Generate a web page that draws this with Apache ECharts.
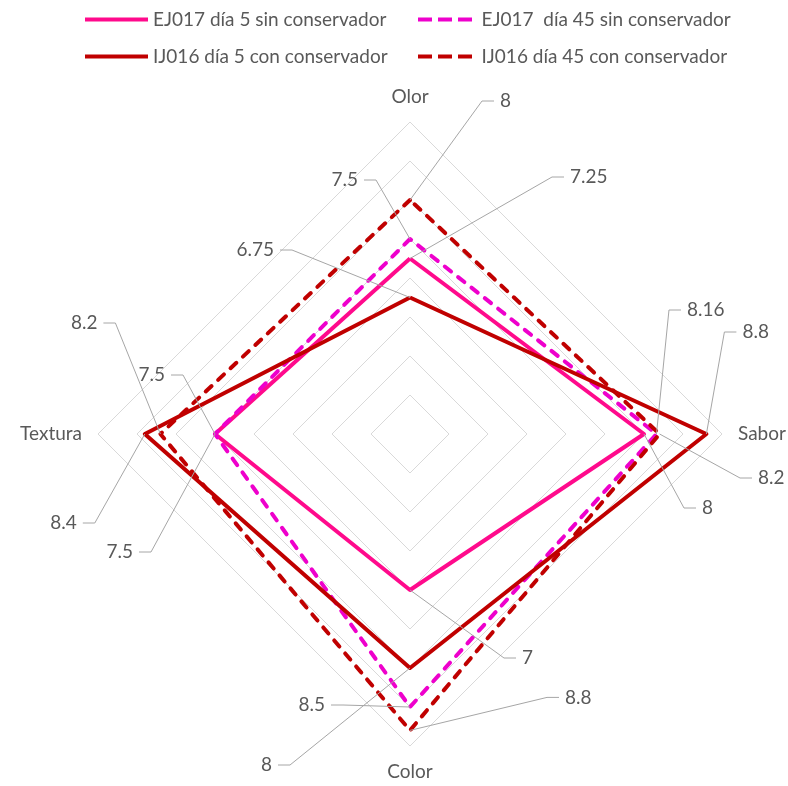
<!DOCTYPE html>
<html>
<head>
<meta charset="utf-8">
<script src="https://cdn.jsdelivr.net/npm/echarts@6/dist/echarts.min.js"></script>
<style>
  html, body { margin: 0; padding: 0; background: #ffffff; }
  #chart { width: 788px; height: 786px; }
</style>
</head>
<body>
<div id="chart"></div>
<script>
// ---------- DATA ----------
var categories = ['Olor', 'Sabor', 'Color', 'Textura'];   // clockwise from top
var seriesNames = [
  'EJ017 día 5 sin conservador',
  'EJ017  día 45 sin conservador',
  'IJ016 día 5 con conservador',
  'IJ016 día 45 con conservador'
];
var ej017Dia5 = [7.25, 8, 7, 7.5];
var ej017Dia45 = [7.5, 8.16, 8.5, 7.5];
var ij016Dia5 = [6.75, 8.8, 8, 8.4];
var ij016Dia45 = [8, 8.2, 8.8, 8.2];
var scaleMin = 5;
var scaleMax = 9;
var scaleSteps = 8;

// ---------- STYLE ----------
var FONT = 'Lato';
var TEXT_COLOR = '#595959';
var colors = ['#FF0A8C', '#EE00CC', '#C00000', '#C00000'];
var dashed = [false, true, false, true];
var CENTER = [410, 434];
var RADIUS = 312;
// label offsets (from data point to the near edge of the label text), per series, per category
var labelOffsets = [
  [[160, -81.5], [58, 74], [112, 68], [-82, 118]],
  [[-52, -59], [30.5, -124], [-85, -2], [-50, -59]],
  [[-136, -47.5], [36, -102], [-138, 97], [-68, 89]],
  [[90, -99], [98.4, 44], [155, -33], [-63, -111]]
];
var STUB_GAP = 6, STUB_LEN = 12;

var allValues = [ej017Dia5, ej017Dia45, ij016Dia5, ij016Dia45];
// radar indicators run counter-clockwise from the top
var radarOrder = [0, 3, 2, 1];

var indicators = radarOrder.map(function (ci) {
  return { name: categories[ci], min: scaleMin, max: scaleMax };
});

var radarSeries = allValues.map(function (vals, si) {
  return {
    type: 'radar',
    name: seriesNames[si],
    symbol: 'none',
    z: 2 + si,
    itemStyle: { color: colors[si] },
    lineStyle: dashed[si]
      ? { color: colors[si], width: 4, type: [8, 9], cap: 'round' }
      : { color: colors[si], width: 4, type: 'solid' },
    data: [{ name: seriesNames[si], value: radarOrder.map(function (ci) { return vals[ci]; }) }]
  };
});

// label points in a polar system aligned with the radar
var labelPoints = [], labelTexts = [], labelOffs = [];
allValues.forEach(function (vals, si) {
  vals.forEach(function (v, ci) {
    labelPoints.push([v, ci * 360 / categories.length]);
    labelTexts.push(String(v));
    labelOffs.push(labelOffsets[si][ci]);
  });
});

var labelSeries = {
  type: 'custom',
  coordinateSystem: 'polar',
  polarIndex: 0,
  silent: true,
  z: 10,
  data: labelPoints,
  renderItem: function (params, api) {
    var i = params.dataIndex;
    var pt = api.coord([api.value(0), api.value(1)]);
    var off = labelOffs[i];
    var side = off[0] >= 0 ? 1 : -1;
    var tx = pt[0] + off[0], ty = pt[1] + off[1];
    var s1 = tx - side * STUB_GAP, s2 = s1 - side * STUB_LEN;
    return {
      type: 'group',
      children: [
        { type: 'polyline', shape: { points: [[pt[0], pt[1]], [s2, ty], [s1, ty]] },
          style: { stroke: '#a6a6a6', lineWidth: 1, fill: null } },
        { type: 'text', style: { text: labelTexts[i], x: tx, y: ty,
          align: side > 0 ? 'left' : 'right', verticalAlign: 'middle',
          fill: TEXT_COLOR, fontSize: 19, fontFamily: FONT } }
      ]
    };
  }
};

var solidIcon = 'path://M0,0h63v4H0z';
var dashIcon = 'path://M0,0h14v4H0z M20,0h14v4H20z M40,0h14v4H40z';
function makeLegend(idx, left, top) {
  return {
    left: left, top: top, padding: 0, selectedMode: false,
    itemWidth: 63, itemHeight: 4,
    itemStyle: { borderWidth: 0 },
    textStyle: { color: TEXT_COLOR, fontSize: 19, fontFamily: FONT },
    data: [{ name: seriesNames[idx], icon: dashed[idx] ? dashIcon : solidIcon }]
  };
}

var option = {
  backgroundColor: '#ffffff',
  animation: false,
  legend: [
    makeLegend(0, 85, 10),
    makeLegend(1, 418, 10),
    makeLegend(2, 85, 47),
    makeLegend(3, 418, 47)
  ],
  radar: {
    center: CENTER,
    radius: RADIUS,
    startAngle: 90,
    shape: 'polygon',
    splitNumber: scaleSteps,
    indicator: indicators,
    axisNameGap: 16,
    axisName: { color: TEXT_COLOR, fontSize: 19, fontFamily: FONT },
    axisLine: { show: false },
    axisTick: { show: false },
    axisLabel: { show: false },
    splitArea: { show: false },
    splitLine: { lineStyle: { color: '#d9d9d9', width: 1 } }
  },
  polar: { center: CENTER, radius: RADIUS },
  angleAxis: { type: 'value', min: 0, max: 360, startAngle: 90, clockwise: true, show: false },
  radiusAxis: { type: 'value', min: scaleMin, max: scaleMax, show: false },
  series: radarSeries.concat([labelSeries])
};

var chart = echarts.init(document.getElementById('chart'), null, { renderer: 'canvas' });
chart.setOption(option);
</script>
</body>
</html>
